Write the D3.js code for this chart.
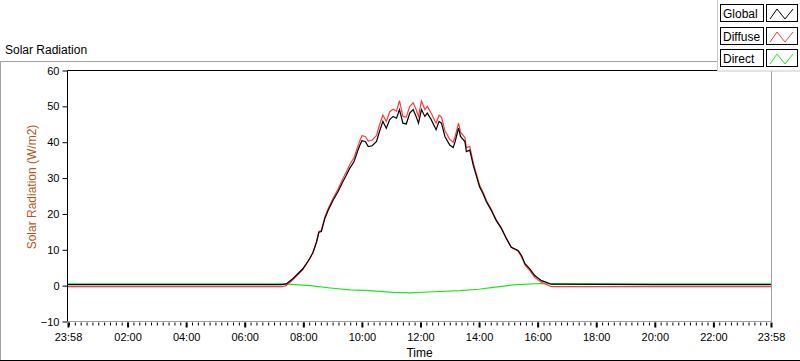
<!DOCTYPE html>
<html><head><meta charset="utf-8">
<script src="https://cdn.jsdelivr.net/npm/d3@7"></script>
<style>
body{margin:0;background:#fff;}
svg{display:block;font-family:"Liberation Sans",Arial,sans-serif;}
</style></head>
<body><svg id="c" width="800" height="361"></svg>
<script>
// ---- data ----
const seriesNames = ["Global", "Diffuse", "Direct"];
const seriesColors = ["#000000", "#ff3b3b", "#1ee61e"];
const yTicks = [-10, 0, 10, 20, 30, 40, 50, 60];
const xTickLabels = ["23:58","02:00","04:00","06:00","08:00","10:00","12:00","14:00","16:00","18:00","20:00","22:00","23:58"];
const xTickTimes = ["05-01 23:58","05-02 02:00","05-02 04:00","05-02 06:00","05-02 08:00","05-02 10:00","05-02 12:00","05-02 14:00","05-02 16:00","05-02 18:00","05-02 20:00","05-02 22:00","05-02 23:58"];

const times = ["05-01 23:58","05-02 03:00","05-02 07:16","05-02 07:25","05-02 07:39","05-02 07:59","05-02 08:13","05-02 08:20","05-02 08:27","05-02 08:32","05-02 08:37","05-02 08:44","05-02 08:51","05-02 09:01","05-02 09:11","05-02 09:21","05-02 09:28","05-02 09:35","05-02 09:44","05-02 09:51","05-02 09:56","05-02 10:00","05-02 10:07","05-02 10:13","05-02 10:21","05-02 10:30","05-02 10:36","05-02 10:43","05-02 10:50","05-02 10:57","05-02 11:04","05-02 11:11","05-02 11:17","05-02 11:24","05-02 11:31","05-02 11:38","05-02 11:45","05-02 11:51","05-02 11:56","05-02 12:02","05-02 12:09","05-02 12:14","05-02 12:22","05-02 12:32","05-02 12:38","05-02 12:43","05-02 12:50","05-02 13:00","05-02 13:07","05-02 13:11","05-02 13:18","05-02 13:22","05-02 13:31","05-02 13:34","05-02 13:41","05-02 13:48","05-02 13:54","05-02 14:01","05-02 14:08","05-02 14:15","05-02 14:25","05-02 14:35","05-02 14:46","05-02 14:56","05-02 15:06","05-02 15:20","05-02 15:27","05-02 15:34","05-02 15:44","05-02 15:54","05-02 16:08","05-02 16:18","05-02 16:28","05-02 20:00","05-02 23:58"];
const globalVals = [0.3,0.3,0.3,0.5,2.0,4.7,7.5,9.3,12.1,14.9,15.1,18.7,21.0,23.8,26.2,29.0,30.8,32.7,34.6,37.4,39.2,40.4,40.2,38.8,39.0,40.2,43.0,45.8,43.9,46.3,47.2,46.7,49.1,45.3,45.1,48.1,49.1,47.2,45.3,49.1,47.2,48.1,46.3,43.5,45.8,45.3,41.6,39.2,38.5,40.2,43.9,41.6,40.2,37.4,37.8,33.6,30.8,27.6,25.7,23.4,21.0,18.2,15.9,13.1,10.7,9.8,8.4,6.1,4.7,2.8,1.4,0.9,0.4,0.3,0.3];
const diffuseVals = [-0.3,-0.3,-0.3,0.0,1.7,4.5,7.5,9.3,12.2,15.1,15.4,19.1,21.5,24.4,26.9,29.8,31.7,33.7,35.7,38.6,40.5,41.8,41.6,40.3,40.6,41.9,44.8,47.6,45.8,48.5,49.2,48.7,51.6,47.2,47.0,50.0,51.0,49.1,47.2,51.5,49.1,50.0,48.1,45.3,47.5,47.0,43.2,40.8,40.0,41.6,45.3,42.8,41.3,38.5,38.8,34.4,31.4,28.1,26.1,23.8,21.3,18.4,16.0,13.2,10.7,9.6,8.0,5.8,4.2,2.3,0.9,0.3,-0.3,-0.3,-0.3];
const directTimes = ["05-01 23:58","05-02 07:16","05-02 07:22","05-02 08:14","05-02 08:55","05-02 09:36","05-02 10:17","05-02 11:04","05-02 11:39","05-02 12:26","05-02 13:21","05-02 14:00","05-02 14:29","05-02 15:10","05-02 16:05","05-02 16:19","05-02 23:58"];
const directVals = [0.5,0.5,0.5,0.0,-0.65,-1.2,-1.4,-1.9,-2.0,-1.7,-1.4,-1.0,-0.5,0.2,0.6,0.5,0.5];

// ---- layout ----
const parse = d3.timeParse("%Y-%m-%d %H:%M");
const P = s => parse("2016-" + s);
const svg = d3.select("#c");
const L = 67.5, R = 771.5, T = 70.5, B = 321.5;
const x = d3.scaleTime().domain([P(xTickTimes[0]), P(xTickTimes[xTickTimes.length-1])]).range([L+0.5, R-0.5]);
const y = d3.scaleLinear().domain([-10, 60]).range([B, T]);

// outer panel frame
svg.append("path").attr("d", `M0.5,361 V61.5 H717`).attr("fill","none").attr("stroke","#a0a0a0");
svg.append("line").attr("x1",0).attr("x2",800).attr("y1",360.5).attr("y2",360.5).attr("stroke","#000");

// title
svg.append("text").attr("x",5).attr("y",54).attr("font-size",12).attr("fill","#000").text("Solar Radiation");

// plot frame
svg.append("path").attr("d",`M${L},${B} V${T} H${R}`).attr("fill","none").attr("stroke","#000");
svg.append("path").attr("d",`M${R},${T} V${B} H${L}`).attr("fill","none").attr("stroke","#a0a0a0");

// y axis
const yAxis = d3.axisLeft(y).tickValues(yTicks).tickSize(5).tickPadding(3).tickFormat(d3.format("d"));
const gy = svg.append("g").attr("transform",`translate(${L},0)`).call(yAxis);
gy.select(".domain").remove();
gy.selectAll("text").attr("font-size",11).attr("font-family","Liberation Sans, Arial, sans-serif").attr("fill","#000");
gy.selectAll("line").attr("stroke","#000");

// x axis minor ticks
const minor = d3.timeMinute.every(12).range(x.domain()[0], x.domain()[1]).filter(d => d.getMinutes() % 12 === 0);
const xMinor = d3.axisBottom(x).tickValues(minor).tickSize(3).tickFormat("");
const gxm = svg.append("g").attr("transform",`translate(0,${B+1})`).call(xMinor);
gxm.select(".domain").remove();
gxm.selectAll("line").attr("stroke","#000");

// x axis major
const xAxis = d3.axisBottom(x).tickValues(xTickTimes.map(P)).tickSize(5).tickPadding(6)
  .tickFormat((d,i) => xTickLabels[i]);
const gx = svg.append("g").attr("transform",`translate(0,${B+1})`).call(xAxis);
gx.select(".domain").remove();
gx.selectAll("line").attr("stroke","#000").attr("stroke-width",2);
gx.selectAll("text").attr("font-size",11).attr("font-family","Liberation Sans, Arial, sans-serif").attr("fill","#000");

// axis titles
svg.append("text").attr("x",(L+R)/2).attr("y",357).attr("text-anchor","middle").attr("font-size",12).text("Time");
svg.append("text").attr("transform",`translate(36,187) rotate(-90)`).attr("text-anchor","middle")
  .attr("font-size",12).attr("fill","#b5581a").text("Solar Radiation (W/m2)");

// lines
const line = d3.line().x(d => x(d[0])).y(d => y(d[1]));
const plot = svg.append("g");
const dsDirect = directTimes.map((t,i) => [P(t), directVals[i]]);
const dsDiffuse = times.map((t,i) => [P(t), diffuseVals[i]]);
const dsGlobal = times.map((t,i) => [P(t), globalVals[i]]);
[[dsDirect,2],[dsDiffuse,1],[dsGlobal,0]].forEach(([ds,k]) => {
  plot.append("path").datum(ds).attr("d", line).attr("fill","none")
    .attr("stroke", seriesColors[k]).attr("stroke-width",1.2);
});

// legend
const lg = svg.append("g");
lg.append("rect").attr("x",717.5).attr("y",-1).attr("width",90).attr("height",72).attr("fill","#fff").attr("stroke","#c8c8c8");
const legY = [4, 27, 49];
seriesNames.forEach((n,i) => {
  const g = lg.append("g").attr("transform",`translate(0,${legY[i]})`);
  g.append("rect").attr("x",720.5).attr("y",0.5).attr("width",43).attr("height",17).attr("fill","#fff").attr("stroke","#000");
  g.append("text").attr("x",723).attr("y",13.5).attr("font-size",12).text(n);
  g.append("rect").attr("x",766.5).attr("y",0.5).attr("width",31).attr("height",17).attr("fill","#fff").attr("stroke","#000");
  g.append("path").attr("d","M770,15 L777,5 L785,15 L793,5").attr("fill","none").attr("stroke",seriesColors[i]);
});
</script></body></html>
